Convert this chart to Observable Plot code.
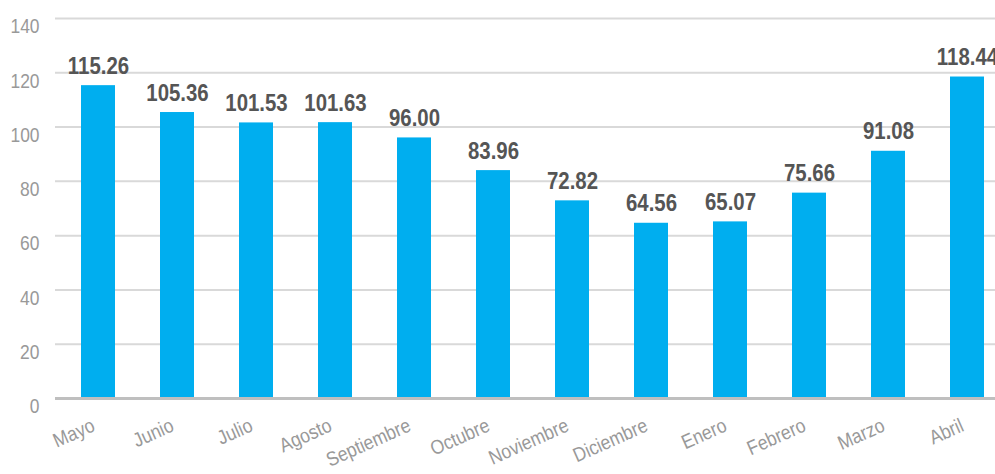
<!DOCTYPE html>
<html>
<head>
<meta charset="utf-8">
<script src="https://cdn.jsdelivr.net/npm/d3@7"></script>
<script src="https://cdn.jsdelivr.net/npm/@observablehq/plot@0.6"></script>
<style>
  html, body { margin: 0; padding: 0; background: #fff; }
  #chart { width: 995px; height: 474px; overflow: hidden; }
  #chart svg { display: block; max-width: none !important; }
</style>
</head>
<body>
<div id="chart"></div>
<script>
// Monthly values, May through April
const months = ["Mayo", "Junio", "Julio", "Agosto", "Septiembre", "Octubre",
                "Noviembre", "Diciembre", "Enero", "Febrero", "Marzo", "Abril"];
const values = [115.26, 105.36, 101.53, 101.63, 96.00, 83.96,
                72.82, 64.56, 65.07, 75.66, 91.08, 118.44];
const yTicks = [0, 20, 40, 60, 80, 100, 120, 140];

const data = months.map((m, i) => ({month: m, value: values[i]}));

const font = '"Liberation Sans", Arial, sans-serif';

const chart = Plot.plot({
  width: 1010,
  height: 474,
  marginTop: 18,
  marginBottom: 76,
  marginLeft: 55,
  marginRight: 0,
  style: {fontFamily: font, background: "#fff", overflow: "visible", maxWidth: "none"},
  x: {domain: months, paddingInner: 0.57, paddingOuter: 0.285},
  y: {domain: [0, 140]},
  marks: [
    Plot.ruleY(yTicks.filter(d => d > 0), {stroke: "#d9d9d9", strokeWidth: 2}),
    Plot.barY(data, {x: "month", y: "value", fill: "#00aeef"}),
    Plot.ruleY([0], {stroke: "#bfbfbf", strokeWidth: 3}),
    Plot.text(data, {
      x: "month", y: "value",
      text: d => d.value.toFixed(2),
      lineAnchor: "bottom", dy: -12,
      fontSize: 24, fontWeight: "bold", fill: "#555555",
      className: "value-label"
    }),
    Plot.axisY({
      ticks: yTicks, tickSize: 0, tickPadding: 16,
      fontSize: 21, color: "#999999", dy: 8, label: null
    }),
    Plot.axisX({
      tickSize: 0, tickPadding: 26, tickRotate: -24, dx: -5,
      fontSize: 20, color: "#999999", label: null
    })
  ]
});

// Narrow the labels horizontally, keeping their anchor points fixed
function narrow(texts, k) {
  texts.forEach(t => {
    const tr = t.getAttribute("transform") || "";
    t.setAttribute("transform", `${tr} scale(${k},1)`);
  });
}
narrow(chart.querySelectorAll('g[aria-label="y-axis tick label"] text'), 0.83);
narrow(chart.querySelectorAll('g[aria-label="x-axis tick label"] text'), 0.88);
narrow(chart.querySelectorAll('.value-label text'), 0.85);

document.getElementById("chart").appendChild(chart);
</script>
</body>
</html>
